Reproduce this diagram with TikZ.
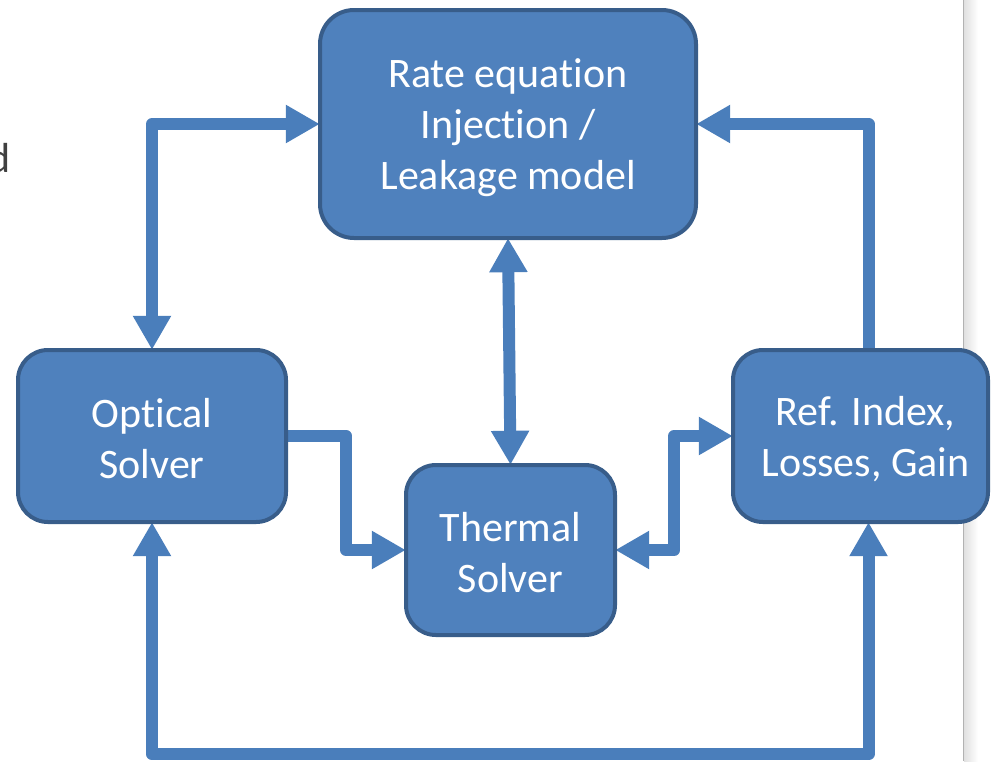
\documentclass[tikz,border=0pt]{standalone}
\usepackage{fontspec}
\setmainfont{Carlito}[Ligatures=NoCommon]
\usetikzlibrary{arrows.meta,calc}
\definecolor{boxfill}{HTML}{4F81BD}
\definecolor{boxline}{HTML}{385D8A}
\definecolor{connc}{HTML}{4A7EBB}
\definecolor{txtgray}{HTML}{404040}
\tikzset{
  blockbox/.style={draw=boxline, fill=boxfill, line width=4pt, rounded corners=30pt,
    inner sep=0pt},
  boxtext/.style={text=white, align=center, inner sep=0pt, font=\fontsize{42}{51}\selectfont},
  conn/.style={draw=connc, line width=12pt, line join=round},
  tipA/.tip={Triangle[length=34pt,width=36pt]},
}
\begin{document}
\begin{tikzpicture}[x=1pt,y=-1pt]
\useasboundingbox (0,0) rectangle (992,761);
% page edge
\shade[left color=black!12, right color=white] (964,0) rectangle (978,761);
\draw[black!30, line width=1pt] (963.5,0) -- (963.5,761);
% cropped text at left
\node[anchor=base east, inner sep=0pt, text=txtgray, font=\fontsize{42}{51}\selectfont] (frag) at (11,172) {d};
% coordinates for boxes (path centres)
\coordinate (cRate) at (508,124);
\coordinate (cOpt) at (152,436);
\coordinate (cTherm) at (510.5,550);
\coordinate (cRef) at (860.5,436);
% invisible anchors for routing (drawn first so boxes sit over line ends)
\path node[minimum width=376pt, minimum height=228pt, inner sep=0pt] (rate) at (cRate) {}
      node[minimum width=268pt, minimum height=172pt, inner sep=0pt] (opt) at (cOpt) {}
      node[minimum width=209pt, minimum height=170pt, inner sep=0pt] (therm) at (cTherm) {}
      node[minimum width=255pt, minimum height=172pt, inner sep=0pt] (ref) at (cRef) {};
% connectors
\draw[conn, tipA-tipA] (opt.north) |- (rate.west);
\draw[conn, -tipA] ($(ref.north)+(8,3)$) |- (rate.east);
\draw[conn, tipA-tipA] (rate.south) -- (therm.north);
\draw[conn, -tipA] ($(opt.east)+(-3,0)$) -- ++(63,0) |- (therm.west);
\draw[conn, tipA-tipA] (therm.east) -- ++(59,0) |- (ref.west);
\draw[conn, tipA-tipA] (opt.south) -- ++(0,232) -| ($(ref.south)+(8,0)$);
% boxes
\node[blockbox, rounded corners=34pt, minimum width=376pt, minimum height=228pt,
  label={[boxtext, yshift=-4pt]center:{Rate equation\\Injection /\\Leakage model}}] (rateB) at (cRate) {};
\node[blockbox, minimum width=268pt, minimum height=172pt,
  label={[boxtext, yshift=-3pt]center:{Optical\\Solver}}] (optB) at (cOpt) {};
\node[blockbox, minimum width=209pt, minimum height=170pt,
  label={[boxtext, yshift=-3pt]center:{Thermal\\Solver}}] (thermB) at (cTherm) {};
\node[blockbox, minimum width=255pt, minimum height=172pt,
  label={[boxtext, xshift=5pt, yshift=-3pt]center:{Ref. Index,\\Losses, Gain}}] (refB) at (cRef) {};
\end{tikzpicture}
\end{document}
